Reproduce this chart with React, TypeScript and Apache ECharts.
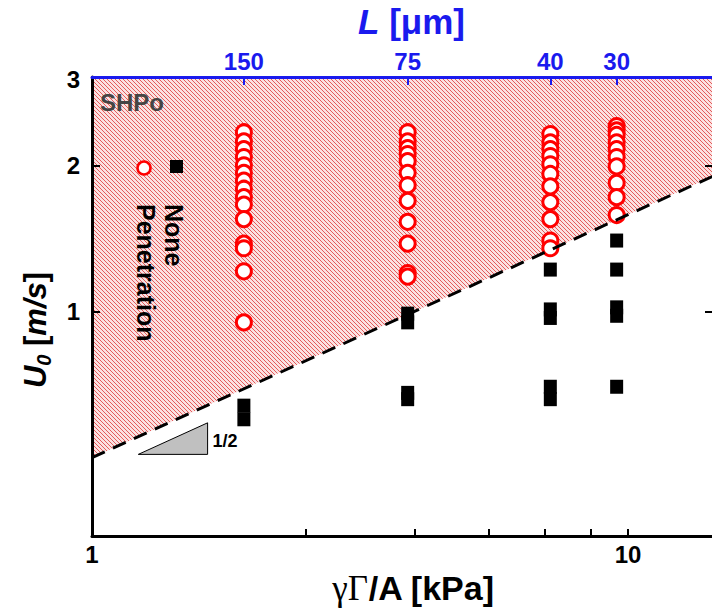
import React, { useEffect, useRef } from 'react';
import * as echarts from 'echarts';

// Axis ranges and tick values
const xMin = 1;
const xMax = 14.4;
const yMin = 0.345;
const yMax = 3.04;
const xLabelValues = [1, 10];
const xTickValues = [2.5, 4, 5.5, 7, 8.5, 10];
const yLabelValues = [1, 2, 3];
const yTickValues = [1, 2];

// Top axis: L [μm] at the tested columns (γΓ/A in kPa)
const xColumns = [1.92, 3.88, 7.16, 9.52];
const lLabels = ['150', '75', '40', '30'];

// Penetration (open circles), U0 values per column
const penCol1 = [2.34, 2.24, 2.16, 2.08, 2.0, 1.93, 1.86, 1.79, 1.72, 1.66, 1.55, 1.38, 1.35, 1.21, 0.95];
const penCol2 = [2.34, 2.24, 2.17, 2.11, 2.04, 1.93, 1.82, 1.69, 1.53, 1.38, 1.2, 1.18];
const penCol3 = [2.32, 2.23, 2.16, 2.09, 2.01, 1.92, 1.81, 1.68, 1.55, 1.4, 1.35];
const penCol4 = [2.41, 2.36, 2.31, 2.23, 2.16, 2.08, 1.99, 1.84, 1.72, 1.58];

// None (filled squares), U0 values per column
const noneCol1 = [0.64, 0.6];
const noneCol2 = [0.99, 0.95, 0.68, 0.66];
const noneCol3 = [1.22, 1.01, 0.97, 0.7, 0.66];
const noneCol4 = [1.4, 1.22, 1.02, 0.98, 0.7];

// Threshold line (dashed) endpoints and slope triangle
const thresholdLine = [[1, 0.5], [14.4, 1.9]];
const slopeTriangle = [[1.22, 0.508], [1.643, 0.508], [1.643, 0.59]];
const slopeLabel = '1/2';

const penCols = [penCol1, penCol2, penCol3, penCol4];
const noneCols = [noneCol1, noneCol2, noneCol3, noneCol4];

const SANS = '"Liberation Sans", Arial, sans-serif';
const BLUE = '#1a1aee';

function makeHatch() {
  const c = document.createElement('canvas');
  c.width = 4;
  c.height = 4;
  const ctx = c.getContext('2d')!;
  ctx.fillStyle = '#fbe2e2';
  ctx.fillRect(0, 0, 4, 4);
  ctx.fillStyle = '#e35c5c';
  for (let i = 0; i < 4; i++) ctx.fillRect(i, i, 1, 1);
  return c;
}

export default function App() {
  const ref = useRef<HTMLDivElement>(null);

  useEffect(() => {
    if (!ref.current) return;
    const chart = echarts.init(ref.current, null, { renderer: 'svg' });
    const hatch = { image: makeHatch(), repeat: 'repeat', imageWidth: 4, imageHeight: 4 };

    const penData: number[][] = [];
    penCols.forEach((col, i) => col.forEach((u) => penData.push([xColumns[i], u])));
    const noneData: number[][] = [];
    noneCols.forEach((col, i) => col.forEach((u) => noneData.push([xColumns[i], u])));

    const hatchPoly = [thresholdLine[0], thresholdLine[1], [xMax, yMax], [xMin, yMax]];

    const option: any = {
      animation: false,
      grid: { left: 92, right: -1, top: 77, bottom: 74, containLabel: false, outerBoundsMode: 'none' },
      xAxis: [
        {
          type: 'log',
          min: xMin,
          max: xMax,
          position: 'bottom',
          z: 10,
          axisLine: { show: true, lineStyle: { color: '#000', width: 3 } },
          axisTick: { show: true, inside: true, length: 7, customValues: xTickValues, lineStyle: { color: '#000', width: 2 } },
          axisLabel: {
            customValues: xLabelValues,
            formatter: (v: number) => String(Math.round(v)),
            color: '#000',
            fontFamily: SANS,
            fontWeight: 'bold',
            fontSize: 24,
            margin: 6,
          },
          splitLine: { show: false },
          name: '{g|γΓ}{b|/A [kPa]}',
          nameLocation: 'middle',
          nameGap: 30,
          nameTextStyle: {
            padding: [0, 0, 0, 22],
            rich: {
              g: { fontFamily: '"Liberation Serif", serif', fontSize: 35, color: '#000' },
              b: { fontFamily: SANS, fontWeight: 'bold', fontSize: 34, color: '#000' },
            },
          },
        },
        {
          type: 'log',
          min: xMin,
          max: xMax,
          position: 'top',
          z: 10,
          axisLine: { show: true, lineStyle: { color: BLUE, width: 3 } },
          axisTick: { show: true, inside: true, length: 8, customValues: xColumns, lineStyle: { color: BLUE, width: 2 } },
          axisLabel: {
            customValues: xColumns,
            formatter: (v: number) => {
              let best = 0;
              xColumns.forEach((c, i) => {
                if (Math.abs(c - v) < Math.abs(xColumns[best] - v)) best = i;
              });
              return lLabels[best];
            },
            color: BLUE,
            fontFamily: SANS,
            fontWeight: 'bold',
            fontSize: 24,
            margin: 4,
          },
          splitLine: { show: false },
          name: '{i|L}{b| [μm]}',
          nameLocation: 'middle',
          nameGap: 38,
          nameTextStyle: {
            padding: [0, 0, 0, 18],
            rich: {
              i: { fontFamily: SANS, fontWeight: 'bold', fontStyle: 'italic', fontSize: 35, color: BLUE },
              b: { fontFamily: SANS, fontWeight: 'bold', fontSize: 35, color: BLUE },
            },
          },
        },
      ],
      yAxis: [
        {
          type: 'log',
          min: yMin,
          max: yMax,
          position: 'left',
          z: 10,
          axisLine: { show: true, lineStyle: { color: '#000', width: 3 } },
          axisTick: { show: true, inside: true, length: 8, customValues: yTickValues, lineStyle: { color: '#000', width: 2 } },
          axisLabel: {
            customValues: yLabelValues,
            formatter: (v: number) => String(Math.round(v)),
            color: '#000',
            fontFamily: SANS,
            fontWeight: 'bold',
            fontSize: 24,
            margin: 12,
          },
          splitLine: { show: false },
        },
        {
          type: 'log',
          min: yMin,
          max: yMax,
          position: 'right',
          z: 10,
          axisLine: { show: true, lineStyle: { color: '#000', width: 2 } },
          axisTick: { show: true, inside: true, length: 8, customValues: yTickValues, lineStyle: { color: '#000', width: 2 } },
          axisLabel: { show: false },
          splitLine: { show: false },
        },
      ],
      series: [
        {
          type: 'custom',
          xAxisIndex: 0,
          yAxisIndex: 0,
          silent: true,
          z: 1,
          data: [[2, 1]],
          renderItem: (_p: any, api: any) => ({
            type: 'polygon',
            shape: { points: hatchPoly.map((p) => api.coord(p)) },
            style: { fill: hatch },
          }),
        },
        {
          type: 'custom',
          xAxisIndex: 0,
          yAxisIndex: 0,
          silent: true,
          z: 2,
          data: [[2, 1]],
          renderItem: (_p: any, api: any) => {
            const pts = slopeTriangle.map((p) => api.coord(p));
            const mid = api.coord([slopeTriangle[1][0], Math.sqrt(slopeTriangle[1][1] * slopeTriangle[2][1])]);
            return {
              type: 'group',
              children: [
                {
                  type: 'polygon',
                  shape: { points: pts },
                  style: { fill: '#c0c0c0', stroke: '#000', lineWidth: 1 },
                },
                {
                  type: 'text',
                  x: mid[0] + 5,
                  y: mid[1] + 2,
                  style: {
                    text: slopeLabel,
                    fill: '#000',
                    font: `bold 18px ${SANS}`,
                    align: 'left',
                    verticalAlign: 'middle',
                  },
                },
              ],
            };
          },
        },
        {
          name: 'Penetration',
          type: 'scatter',
          xAxisIndex: 0,
          yAxisIndex: 0,
          z: 4,
          symbol: 'circle',
          symbolSize: 15,
          itemStyle: { color: '#fff', borderColor: '#ff0000', borderWidth: 3, opacity: 1 },
          data: penData,
        },
        {
          name: 'None',
          type: 'scatter',
          xAxisIndex: 0,
          yAxisIndex: 0,
          z: 4,
          symbol: 'rect',
          symbolSize: [13, 14],
          itemStyle: { color: '#000', opacity: 1 },
          data: noneData,
        },
        {
          type: 'line',
          xAxisIndex: 0,
          yAxisIndex: 0,
          z: 5,
          symbol: 'none',
          silent: true,
          lineStyle: { color: '#000', width: 3, type: [14, 9] },
          data: thresholdLine,
        },
      ],
      graphic: [
        {
          type: 'text',
          z: 100,
          x: 35,
          y: 330,
          rotation: Math.PI / 2,
          style: {
            text: '{i|U}{s|0}{b| [}{i|m/s}{b|]}',
            align: 'center',
            verticalAlign: 'middle',
            rich: {
              i: { fontFamily: SANS, fontWeight: 'bold', fontStyle: 'italic', fontSize: 31, fill: '#000', lineHeight: 38 },
              s: { fontFamily: SANS, fontWeight: 'bold', fontStyle: 'italic', fontSize: 20, fill: '#000', verticalAlign: 'bottom', lineHeight: 24 },
              b: { fontFamily: SANS, fontWeight: 'bold', fontSize: 31, fill: '#000', lineHeight: 38 },
            },
          },
        },
        {
          type: 'text',
          left: 100,
          top: 90,
          z: 100,
          style: { text: 'SHPo', fill: '#454545', font: `bold 24px ${SANS}` },
        },
        {
          type: 'circle',
          z: 100,
          shape: { cx: 144, cy: 168, r: 6.5 },
          style: { fill: '#fff', stroke: '#ff0000', lineWidth: 2.5 },
        },
        {
          type: 'rect',
          z: 100,
          shape: { x: 170, y: 160, width: 13, height: 13 },
          style: { fill: '#000' },
        },
        {
          type: 'text',
          z: 100,
          x: 174,
          y: 204,
          rotation: -Math.PI / 2,
          style: { text: 'None', fill: '#000', font: `bold 25px ${SANS}`, align: 'left', verticalAlign: 'middle' },
        },
        {
          type: 'text',
          z: 100,
          x: 146,
          y: 204,
          rotation: -Math.PI / 2,
          style: { text: 'Penetration', fill: '#000', font: `bold 25px ${SANS}`, align: 'left', verticalAlign: 'middle' },
        },
      ],
    };

    chart.setOption(option);
    return () => chart.dispose();
  }, []);

  return <div ref={ref} style={{ width: 712, height: 610, position: 'absolute', left: 0, top: 0 }} />;
}
